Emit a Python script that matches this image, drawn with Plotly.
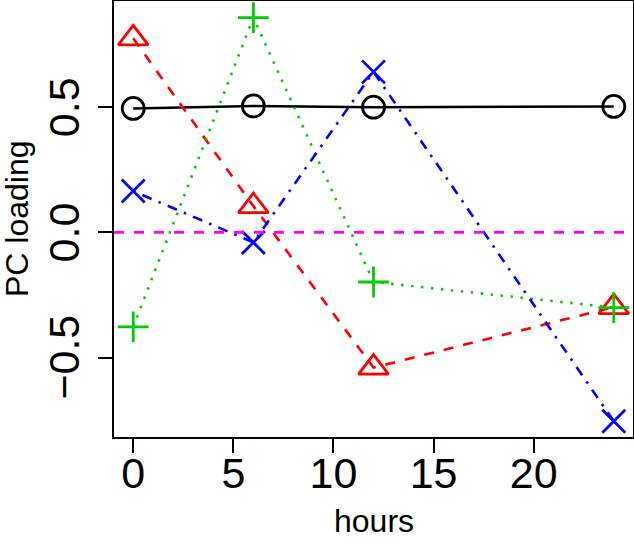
import plotly.graph_objects as go

# PC loadings over time (hours)
hours = [0, 6, 12, 24]
pc1 = [0.495, 0.505, 0.500, 0.503]
pc2 = [0.775, 0.105, -0.540, -0.298]
pc3 = [-0.377, 0.858, -0.198, -0.300]
pc4 = [0.165, -0.040, 0.641, -0.754]

x_ticks = [0, 5, 10, 15, 20]
y_ticks = [-0.5, 0.0, 0.5]
y_tick_labels = ["\u22120.5", "0.0", "0.5"]

series = [
    (pc1, "#000000", "solid", "circle-open", 22),
    (pc2, "#FF0000", "10px,10px", "triangle-up-open", 26),
    (pc3, "#00CD00", "2.5px,7.5px", "cross-thin-open", 22),
    (pc4, "#0000FF", "2.5px,7.5px,10px,7.5px", "x-thin-open", 23),
]

FONT = "Liberation Sans, Arial, sans-serif"

fig = go.Figure()
for vals, col, dash, sym, sz in series:
    fig.add_trace(go.Scatter(
        x=hours, y=vals, mode="lines+markers",
        line=dict(color=col, width=2.6, dash=dash),
        marker=dict(symbol=sym, size=sz, color=col, line=dict(color=col, width=2.8)),
        showlegend=False,
    ))

# reference line at zero
fig.add_shape(type="line", xref="paper", x0=0, x1=1, yref="y", y0=0, y1=0,
              line=dict(color="#FF00FF", width=2.6, dash="10px,10px"))

axis_common = dict(
    showline=True, linecolor="black", linewidth=1.5, mirror=True,
    ticks="outside", ticklen=14, tickwidth=1.5, tickcolor="black",
    showgrid=False, zeroline=False,
    tickfont=dict(family=FONT, size=43, color="black"),
)

fig.update_xaxes(range=[-0.96, 24.96], tickvals=x_ticks, ticklabelstandoff=-16, **axis_common)
fig.update_yaxes(range=[-0.817, 0.924], tickvals=y_ticks, showticklabels=False, **axis_common)

# y tick labels, rotated like R's default
for v, lab in zip(y_ticks, y_tick_labels):
    fig.add_annotation(text=lab, xref="paper", x=0, yref="y", y=v, xshift=-50,
                       xanchor="center", yanchor="middle", textangle=-90, showarrow=False,
                       font=dict(family=FONT, size=43, color="black"))

# axis titles
fig.add_annotation(text="hours", xref="paper", x=0.5, yref="paper", y=0, yshift=-84,
                   xanchor="center", yanchor="middle", showarrow=False,
                   font=dict(family=FONT, size=32, color="black"))
fig.add_annotation(text="PC loading", xref="paper", x=0, yref="paper", y=0.5, xshift=-97,
                   xanchor="center", yanchor="middle", textangle=-90, showarrow=False,
                   font=dict(family=FONT, size=32, color="black"))

fig.update_layout(
    width=634, height=543,
    margin=dict(l=114, r=1, t=1, b=106, autoexpand=False),
    plot_bgcolor="white", paper_bgcolor="white",
)

fig.write_html("out.html", config={"displayModeBar": False},
               post_script="document.body.style.margin='0';")
